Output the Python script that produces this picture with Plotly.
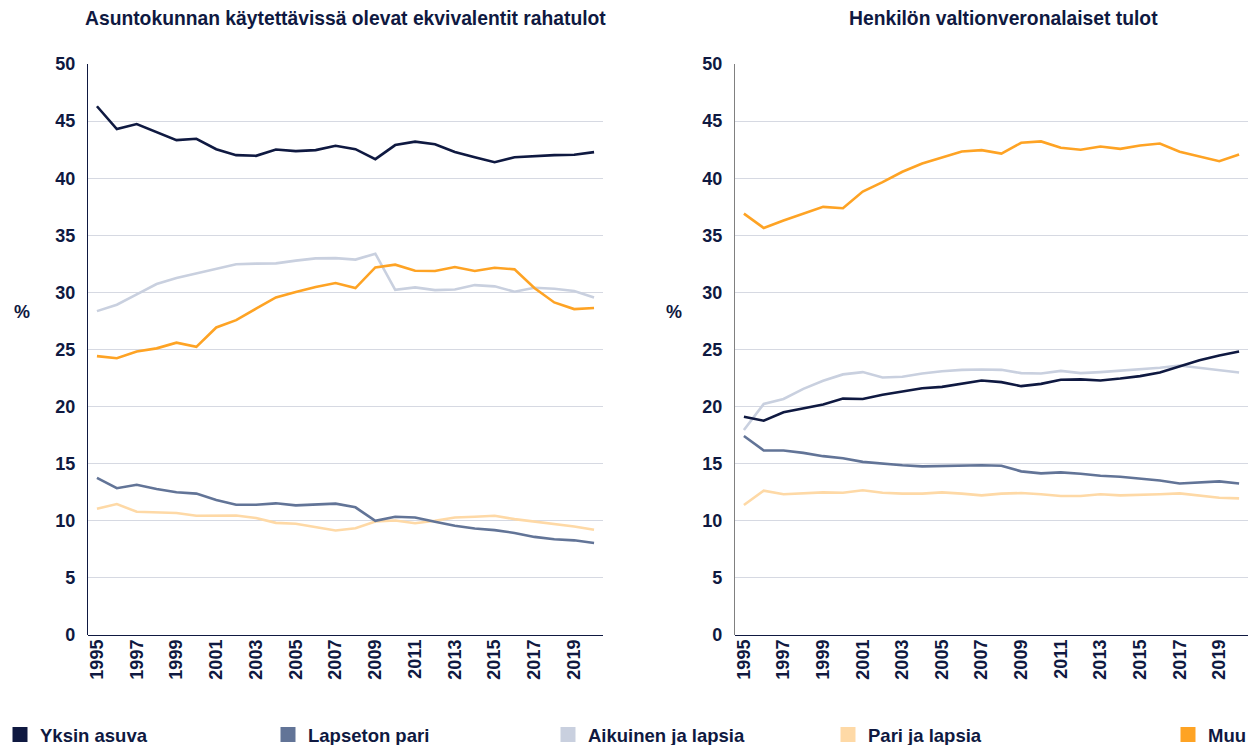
import plotly.graph_objects as go

years = list(range(1995, 2021))

series_names = ["Yksin asuva", "Lapseton pari", "Aikuinen ja lapsia", "Pari ja lapsia", "Muu"]
colors = ["#0f1941", "#627497", "#c9d0df", "#fed9a6", "#fea324"]

# Asuntokunnan käytettävissä olevat ekvivalentit rahatulot
left_yksin = [46.3, 44.3, 44.74, 44.0, 43.33, 43.45, 42.54, 42.02, 41.96, 42.51, 42.37, 42.46, 42.84,
              42.54, 41.67, 42.9, 43.2, 42.98, 42.3, 41.84, 41.4, 41.84, 41.96, 42.02, 42.05, 42.28]
left_lapseton = [13.76, 12.85, 13.15, 12.79, 12.5, 12.38, 11.82, 11.41, 11.41, 11.53, 11.35, 11.44, 11.5,
                 11.18, 10.0, 10.35, 10.29, 9.91, 9.56, 9.32, 9.18, 8.94, 8.59, 8.38, 8.29, 8.06]
left_aikuinen = [28.36, 28.92, 29.82, 30.73, 31.26, 31.67, 32.08, 32.46, 32.52, 32.54, 32.78, 32.98, 33.0,
                 32.87, 33.39, 30.23, 30.44, 30.2, 30.26, 30.64, 30.53, 30.06, 30.41, 30.32, 30.12, 29.56]
left_pari = [11.06, 11.47, 10.79, 10.74, 10.68, 10.44, 10.47, 10.47, 10.24, 9.82, 9.74, 9.47, 9.15,
             9.35, 9.94, 10.03, 9.79, 10.0, 10.29, 10.35, 10.44, 10.15, 9.94, 9.74, 9.5, 9.21]
left_muu = [24.42, 24.24, 24.82, 25.1, 25.6, 25.23, 26.93, 27.57, 28.57, 29.56, 30.03, 30.47, 30.82,
            30.38, 32.19, 32.43, 31.9, 31.87, 32.22, 31.87, 32.16, 32.02, 30.38, 29.12, 28.54, 28.63]

# Henkilön valtionveronalaiset tulot
right_yksin = [19.12, 18.77, 19.5, 19.85, 20.18, 20.7, 20.67, 21.03, 21.32, 21.61, 21.73, 21.99, 22.29,
               22.14, 21.79, 21.99, 22.35, 22.38, 22.29, 22.46, 22.67, 22.99, 23.5, 24.06, 24.47, 24.82]
right_lapseton = [17.42, 16.16, 16.16, 15.95, 15.66, 15.48, 15.16, 14.98, 14.86, 14.77, 14.8, 14.82, 14.86,
                  14.82, 14.33, 14.15, 14.24, 14.12, 13.94, 13.86, 13.68, 13.53, 13.27, 13.36, 13.45, 13.27]
right_aikuinen = [17.95, 20.23, 20.67, 21.55, 22.26, 22.82, 23.02, 22.55, 22.61, 22.9, 23.1, 23.22, 23.25,
                  23.22, 22.93, 22.9, 23.13, 22.93, 23.02, 23.13, 23.25, 23.4, 23.6, 23.4, 23.22, 22.99]
right_pari = [11.38, 12.64, 12.32, 12.38, 12.49, 12.46, 12.67, 12.46, 12.38, 12.38, 12.49, 12.38, 12.23,
              12.38, 12.43, 12.32, 12.17, 12.17, 12.32, 12.23, 12.26, 12.32, 12.4, 12.23, 12.02, 11.96]
right_muu = [36.9, 35.64, 36.29, 36.9, 37.49, 37.37, 38.83, 39.65, 40.56, 41.29, 41.81, 42.34, 42.46,
             42.16, 43.1, 43.22, 42.66, 42.49, 42.78, 42.57, 42.87, 43.04, 42.31, 41.87, 41.49, 42.08]

left_title = "Asuntokunnan käytettävissä olevat ekvivalentit rahatulot"
right_title = "Henkilön valtionveronalaiset tulot"

left_data = [left_yksin, left_lapseton, left_aikuinen, left_pari, left_muu]
right_data = [right_yksin, right_lapseton, right_aikuinen, right_pari, right_muu]

navy = "#0f1941"
font_family = "Liberation Sans, Arial, sans-serif"
W, H = 1253, 745

fig = go.Figure()

# draw order: light lines first so dark ones sit on top
order = [2, 3, 1, 4, 0]
for i in order:
    fig.add_trace(go.Scatter(x=years, y=left_data[i], mode="lines", line=dict(color=colors[i], width=2.6),
                             xaxis="x", yaxis="y", showlegend=False, hoverinfo="x+y", name=series_names[i]))
    fig.add_trace(go.Scatter(x=years, y=right_data[i], mode="lines", line=dict(color=colors[i], width=2.6),
                             xaxis="x2", yaxis="y2", showlegend=False, hoverinfo="x+y", name=series_names[i]))

# legend entries as squares, one legend per entry to match spacing
legend_centers = [18, 288, 568, 848, 1188]
legend_keys = ["legend", "legend2", "legend3", "legend4", "legend5"]
for i, name in enumerate(series_names):
    fig.add_trace(go.Scatter(x=[None], y=[None], mode="markers", name=name,
                             marker=dict(symbol="square", size=15, color=colors[i]),
                             legend=legend_keys[i], xaxis="x", yaxis="y"))

y_dom = [1 - 635 / H, 1 - 64 / H]

common_x = dict(
    tickmode="array", tickvals=years[::2], ticktext=[str(y) for y in years[::2]],
    tickangle=-90, showgrid=False, zeroline=False, showline=False, ticks="", automargin=False,
    range=[1994.55, 2020.45],
    tickfont=dict(family=font_family, size=18, color=navy, weight="bold"),
)
common_y = dict(
    range=[0, 50], tickvals=list(range(0, 51, 5)), showgrid=True, gridcolor="#d6d9e2", gridwidth=1,
    zeroline=True, zerolinecolor=navy, zerolinewidth=1.3, showline=True, linewidth=1.3, ticks="",
    ticklabelstandoff=8, automargin=False,
    tickfont=dict(family=font_family, size=18, color=navy, weight="bold"),
    domain=y_dom,
)

legend_layout = {}
for i, key in enumerate(legend_keys):
    legend_layout[key] = dict(
        x=max(legend_centers[i] - 20, 0) / W, y=1 - 735 / H, xanchor="left", yanchor="middle",
        orientation="h", bgcolor="rgba(0,0,0,0)",
        font=dict(family=font_family, size=18.5, color=navy, weight="bold"),
    )

fig.update_layout(
    width=W, height=H, margin=dict(l=0, r=0, t=0, b=0, autoexpand=False),
    plot_bgcolor="white", paper_bgcolor="white",
    xaxis=dict(domain=[88 / W, 603 / W], anchor="y", **common_x),
    xaxis2=dict(domain=[735 / W, 1248 / W], anchor="y2", **common_x),
    yaxis=dict(anchor="x", linecolor=navy, **common_y),
    yaxis2=dict(anchor="x2", linecolor="#808080", **common_y),
    annotations=[
        dict(text="<b>" + left_title + "</b>", x=345 / W, y=1 - 19 / H, xref="paper", yref="paper",
             xanchor="center", yanchor="middle", showarrow=False,
             font=dict(family=font_family, size=19.3, color=navy)),
        dict(text="<b>" + right_title + "</b>", x=1003 / W, y=1 - 19 / H, xref="paper", yref="paper",
             xanchor="center", yanchor="middle", showarrow=False,
             font=dict(family=font_family, size=19.3, color=navy)),
        dict(text="<b>%</b>", x=22 / W, y=1 - 312 / H, xref="paper", yref="paper",
             xanchor="center", yanchor="middle", showarrow=False,
             font=dict(family=font_family, size=18, color=navy)),
        dict(text="<b>%</b>", x=674 / W, y=1 - 312 / H, xref="paper", yref="paper",
             xanchor="center", yanchor="middle", showarrow=False,
             font=dict(family=font_family, size=18, color=navy)),
    ],
    **legend_layout,
)

# drop the default page margin so the figure sits at the window's corner
fig.write_html("out.html", config={"displayModeBar": False},
               post_script="document.body.style.margin='0px';")
